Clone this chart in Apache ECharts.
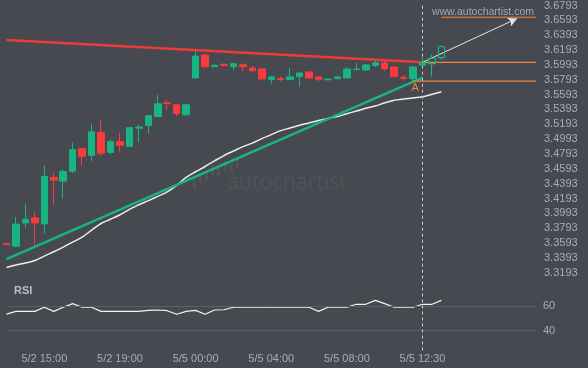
<!DOCTYPE html>
<html>
<head>
<meta charset="utf-8">
<script src="https://cdn.jsdelivr.net/npm/echarts@6/dist/echarts.min.js"></script>
<style>
html,body{margin:0;padding:0;background:#464a50;}
#c{width:588px;height:368px;}
</style>
</head>
<body>
<div id="c"></div>
<script>
// ---- Data ----
var categories = [
 "5/2 13:00","5/2 13:30","5/2 14:00","5/2 14:30","5/2 15:00","5/2 15:30","5/2 16:00","5/2 16:30",
 "5/2 17:00","5/2 17:30","5/2 18:00","5/2 18:30","5/2 19:00","5/2 19:30","5/2 20:00","5/2 20:30",
 "5/4 22:00","5/4 22:30","5/4 23:00","5/4 23:30","5/5 00:00","5/5 00:30","5/5 01:00","5/5 01:30",
 "5/5 02:00","5/5 02:30","5/5 03:00","5/5 03:30","5/5 04:00","5/5 04:30","5/5 05:00","5/5 05:30",
 "5/5 06:00","5/5 06:30","5/5 07:00","5/5 07:30","5/5 08:00","5/5 08:30","5/5 09:00","5/5 09:30",
 "5/5 10:00","5/5 10:30","5/5 11:00","5/5 11:30","5/5 12:30","5/5 13:00","5/5 13:30","5/5 14:00",
 "5/5 14:30","5/5 15:00","5/5 15:30","5/5 16:00","5/5 16:30","5/5 17:00","5/5 17:30","5/5 18:00",
 "5/5 18:30"
];
var tickLabels = ["5/2 15:00","5/2 19:00","5/5 00:00","5/5 04:00","5/5 08:00","5/5 12:30"];

// [open, close, low, high]
var candles = [
 [3.3585,3.3572,3.3570,3.3587],
 [3.3551,3.3846,3.3534,3.3944],
 [3.3864,3.3913,3.3802,3.4124],
 [3.3931,3.3864,3.3555,3.4011],
 [3.3850,3.4490,3.3716,3.4637],
 [3.4476,3.4440,3.4110,3.4534],
 [3.4427,3.4557,3.4191,3.4584],
 [3.4561,3.4852,3.4534,3.4946],
 [3.4865,3.4762,3.4641,3.4870],
 [3.4775,3.5093,3.4700,3.5201],
 [3.5080,3.4802,3.4767,3.5250],
 [3.4812,3.4959,3.4785,3.4995],
 [3.4959,3.4909,3.4821,3.5076],
 [3.4896,3.5147,3.4883,3.5150],
 [3.5140,3.5156,3.4950,3.5183],
 [3.5178,3.5308,3.5070,3.5318],
 [3.5298,3.5469,3.5298,3.5589],
 [3.5482,3.5472,3.5384,3.5518],
 [3.5455,3.5339,3.5304,3.5464],
 [3.5321,3.5455,3.5312,3.5469],
 [3.5817,3.6112,3.5808,3.6180],
 [3.6126,3.5969,3.5948,3.6144],
 [3.5969,3.5988,3.5961,3.6001],
 [3.6001,3.5983,3.5970,3.6010],
 [3.5969,3.6009,3.5921,3.6012],
 [3.5996,3.5969,3.5908,3.6019],
 [3.5951,3.5915,3.5898,3.5978],
 [3.5938,3.5804,3.5795,3.5940],
 [3.5795,3.5831,3.5741,3.5844],
 [3.5808,3.5795,3.5768,3.5831],
 [3.5795,3.5831,3.5787,3.5951],
 [3.5835,3.5884,3.5701,3.5886],
 [3.5898,3.5817,3.5815,3.5900],
 [3.5831,3.5795,3.5768,3.5833],
 [3.5792,3.5802,3.5785,3.5815],
 [3.5808,3.5831,3.5795,3.5853],
 [3.5817,3.5938,3.5815,3.5965],
 [3.5929,3.5938,3.5921,3.6023],
 [3.5925,3.5992,3.5915,3.6001],
 [3.5985,3.6021,3.5965,3.6046],
 [3.6019,3.5942,3.5911,3.6046],
 [3.5965,3.5835,3.5827,3.5974],
 [3.5827,3.5813,3.5778,3.5858],
 [3.5808,3.5965,3.5778,3.5967],
 [3.5988,3.6023,3.5986,3.6112]
];
var pendingCandles = [
 [3.6009,3.6082,3.5835,3.6134],
 [3.6090,3.6237,3.6062,3.6256]
];
var maValues = [
 3.3263,3.3296,3.3323,3.3357,3.3417,3.3475,3.3538,3.3605,3.3672,3.3766,
 3.3856,3.3913,3.3974,3.4047,3.4108,3.4164,3.4222,3.4282,3.4369,3.4476,
 3.4553,3.4624,3.4700,3.4771,3.4832,3.4892,3.4939,3.4999,3.5053,3.5107,
 3.5143,3.5179,3.5211,3.5243,3.5272,3.5297,3.5335,3.5371,3.5408,3.5438,
 3.5482,3.5516,3.5532,3.5548,3.5563,3.5596,3.5630
];
var rsiValues = [
 53.5,55.7,55.7,55.7,59.0,55.7,59.0,61.9,59.0,59.0,
 55.7,55.7,55.7,55.7,55.7,56.4,56.8,56.2,53.3,55.7,
 56.5,53.3,56.8,57.0,59.0,59.0,59.0,59.0,59.0,59.0,
 59.0,59.0,59.0,55.7,59.0,59.0,59.0,61.4,61.4,64.6,
 61.9,59.0,59.0,59.0,61.4,61.4,64.6
];
var resistanceLine = [[0,3.6327],[44,3.6029]];
var supportLine = [[0,3.3377],[44,3.5821]];
var levelLow = [[43,3.5773],[56,3.5773]];
var levelMid = [[44,3.6028],[56,3.6028]];
var levelTarget = [[46,3.6635],[56,3.6635]];
var arrowFrom = [44,3.6028];
var arrowTo = [54,3.6618];
var patternPoint = [43,3.5773];
var signalIndex = 44;
var priceTicks = {min:3.3193, max:3.6793, step:0.02};
var rsiGrid = [40,60];

// ---- Chart ----
var GREEN = '#16b582', RED = '#fa3b3b', ORANGE = '#f0863a', TXT = '#a9adb3';
var pendingData = candles.map(function(){return '-';}).concat(pendingCandles);
var chart = echarts.init(document.getElementById('c'), null, {renderer:'canvas'});
var FONT = "'Liberation Sans', Arial, sans-serif";

chart.setOption({
  backgroundColor: '#464a50',
  animation: false,
  textStyle: {fontFamily: FONT},
  title: {
    text: 'RSI', left: 9, top: 280,
    textStyle: {color: '#b8bcc4', fontSize: 11, fontWeight: 'bold', fontFamily: FONT}
  },
  graphic: [
    {type:'text', right: 54, top: 7, style:{text:'www.autochartist.com', fill:'#a4a8ae', font:"10.5px " + FONT}},
    {type:'group', left: 193, top: 157, silent:true, children: [
      {type:'rect', shape:{x:0,y:22,width:3,height:11}, style:{fill:'rgba(255,255,255,0.06)'}},
      {type:'rect', shape:{x:6,y:18,width:3,height:9}, style:{fill:'rgba(255,255,255,0.06)'}},
      {type:'rect', shape:{x:12,y:14,width:3,height:11}, style:{fill:'rgba(255,255,255,0.06)'}},
      {type:'rect', shape:{x:18,y:9,width:3,height:10}, style:{fill:'rgba(255,255,255,0.06)'}},
      {type:'rect', shape:{x:24,y:12,width:3,height:8}, style:{fill:'rgba(255,255,255,0.06)'}},
      {type:'rect', shape:{x:31,y:5,width:3,height:10}, style:{fill:'rgba(255,255,255,0.06)'}},
      {type:'rect', shape:{x:37,y:8,width:3,height:8}, style:{fill:'rgba(255,255,255,0.06)'}},
      {type:'rect', shape:{x:43,y:1,width:3,height:11}, style:{fill:'rgba(255,255,255,0.06)'}}
    ]},
    {type:'text', left: 227, top: 172, silent:true, style:{text:'autochartist', fill:'rgba(255,255,255,0.07)', font:"300 22px 'Noto Sans', sans-serif"}}
  ],
  grid: [
    {left: 6.5, right: 52, top: 4.3, height: 268.4},
    {left: 6.5, right: 52, top: 273.9, height: 76.6}
  ],
  xAxis: [
    {type:'category', gridIndex:0, data:categories, boundaryGap:false, show:false},
    {type:'category', gridIndex:1, data:categories, boundaryGap:false,
     axisLine:{show:false}, axisTick:{show:false}, splitLine:{show:false},
     axisLabel:{color:TXT, fontSize:11, margin:3, fontFamily:FONT,
       interval:function(i, v){ return tickLabels.indexOf(v) >= 0; },
       formatter:function(v){ return tickLabels.indexOf(v) >= 0 ? v : ''; }}}
  ],
  yAxis: [
    {type:'value', gridIndex:0, position:'right', min:priceTicks.min, max:priceTicks.max, interval:priceTicks.step,
     axisLine:{show:false}, axisTick:{show:false}, splitLine:{show:false},
     axisLabel:{color:TXT, fontSize:11, margin:8, fontFamily:FONT, formatter:function(v){return v.toFixed(4);}}},
    {type:'value', gridIndex:1, position:'right', min:24, max:86,
     axisLine:{show:false}, axisTick:{show:false}, splitLine:{show:false}, axisLabel:{show:false}}
  ],
  series: [
    {type:'line', xAxisIndex:0, yAxisIndex:0, data:maValues, smooth:0.4, symbol:'none',
     lineStyle:{color:'#ececec', width:1.5}, z:3},
    {type:'line', xAxisIndex:0, yAxisIndex:0, data:resistanceLine, symbol:'none',
     lineStyle:{color:RED, width:2.5, opacity:0.92}, z:4},
    {type:'line', xAxisIndex:0, yAxisIndex:0, data:supportLine, symbol:'none',
     lineStyle:{color:GREEN, width:2.5}, z:4},
    {type:'line', xAxisIndex:0, yAxisIndex:0, data:levelLow, symbol:'none',
     lineStyle:{color:ORANGE, width:1.2}, z:4,
     markPoint:{symbol:'circle', symbolSize:0, silent:true,
       data:[{coord:patternPoint, value:'A',
         label:{show:true, formatter:'A', position:'bottom', distance:0, offset:[2,1], color:ORANGE, fontSize:11, fontFamily:FONT}}]}},
    {type:'line', xAxisIndex:0, yAxisIndex:0, data:levelMid, symbol:'none',
     lineStyle:{color:ORANGE, width:1.2}, z:4},
    {type:'line', xAxisIndex:0, yAxisIndex:0, data:levelTarget, symbol:'none',
     lineStyle:{color:ORANGE, width:1.2}, z:4},
    {type:'candlestick', xAxisIndex:0, yAxisIndex:0, data:candles, barWidth:7, clip:true, z:5,
     itemStyle:{color:GREEN, color0:RED, borderColor:GREEN, borderColor0:RED, borderWidth:1},
     markLine:{symbol:'none', silent:true, label:{show:false},
       lineStyle:{color:'#c9ccd1', type:[3,3], width:1},
       data:[{xAxis: signalIndex}]}},
    {type:'candlestick', xAxisIndex:0, yAxisIndex:0, data:pendingData, barWidth:7, z:5,
     itemStyle:{color:'transparent', color0:'transparent', borderColor:GREEN, borderColor0:GREEN, borderWidth:1.2}},
    {type:'line', xAxisIndex:0, yAxisIndex:0, data:[], symbol:'none', z:6,
     markLine:{silent:true, symbol:['none','arrow'], symbolSize:[7,9], label:{show:false},
       lineStyle:{color:'#e6e6e6', width:1, type:'solid'},
       data:[[{coord:arrowFrom},{coord:arrowTo}]]}},
    {type:'line', xAxisIndex:1, yAxisIndex:1, data:rsiValues, symbol:'none',
     lineStyle:{color:'#f2f2f2', width:1.2}, z:4,
     markLine:{symbol:'none', silent:true,
       lineStyle:{color:'#5c6066', type:'solid', width:1},
       label:{show:true, position:'end', distance:7, color:TXT, fontSize:11, fontFamily:FONT, formatter:'{c}'},
       data: rsiGrid.map(function(v){return {yAxis:v};}).concat([
         {xAxis: signalIndex, lineStyle:{color:'#c9ccd1', type:[3,3], width:1}, label:{show:false}}
       ])}}
  ]
});
</script>
</body>
</html>
